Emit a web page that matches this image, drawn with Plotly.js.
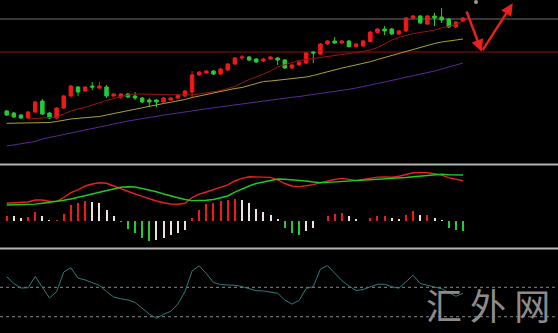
<!DOCTYPE html>
<html><head><meta charset="utf-8">
<script src="https://cdn.plot.ly/plotly-3.0.1.min.js"></script>
<style>html,body{margin:0;padding:0;background:#000;overflow:hidden}#chart{width:558px;height:333px}</style>
</head><body><div id="chart"></div>
<script>
// candle index (time order)
const idx = Array.from({length: 65}, (_, i) => i);

// OHLC (price units)
const open  = [89,87,85,82,88,99,87,82,92,104,113,109,114,112,113,104,103,106,104,102,100,100,98,100,102,104,108,125,127,129,126,130,136,142,143,141,139,141,142,140,132,135,137,148,146,156,159,157,159,153.5,154,158.5,167.5,171,171,166,169,182,184,176,184,183,181,173,179];
const high  = [90,88,86,89,99,101,88,93,105,115,114,114,118,118,115,107,107,107,108,103,102,101,103,103,106,110,129,129,130,130,132,137,143,145,144,142,142,144,143,141,136,139,148,149,157,160,163,160,160,157,160,169,172,174,172,170,183,185,185,185,187,192,182,179,183];
const low   = [84,82,81,81,87,85,81,81,91,103,104,108,110,111,102,103,101,102,100,97,93,93,97,99,101,103,103,124,126,125,125,129,135,140,139,137,138,140,135,131,131,134,136,137,145,155,156,156,152.5,152.5,153,157.5,166.5,165,165,165,168,181,176,175,174,177,172,172,178];
const close = [85,83,82,88,98,86,82,92,104,114,108,113,113,114,104,106,106,103,102,98,98,98,102,102,105,109,125,128,129,126,131,136,142,143,140,138,141,143,140,132,135,138,147,147,156,159,157,159,153.5,156,159,168,171,169,166,169,182,184,177,184,182,180,173,178,182];

// moving averages
const maShort = [null,null,null,81,81.5,82,82.5,83,86,89,91,92.5,95,97.5,99.5,101.5,103.5,105,106,106,106,105.8,105.5,105.2,105,105,105.2,106,107,108,109.5,111.5,113.5,117,120.5,123,126,129,133,135.5,137.5,139.5,140.5,141.7,142.7,143.7,144.7,145.5,146.2,147,148.5,150,152.5,156,160,162.5,164.5,166.5,167.5,168.5,170,172,173.5,175.5,179];
const maMid   = [76.7,76.8,77,77.1,77.2,77.3,77.5,78.5,80,81,81.7,82.4,83,83.5,85,86.5,88,89.5,91,92,93.5,95,96.5,97.7,99,100.5,102.5,104,106,107.5,109,110.5,111.5,112.5,114.5,116.5,118.5,119,119.7,120.2,121,122,123,124.5,126.5,128.5,130.5,132,133.5,135,136.5,138.3,140.5,142.5,144.5,147,149,151,153,155,156.5,158,159,160,161];
const maLong  = [54,55,56.5,57.5,58.5,61,62.5,64.5,66,67.5,69,70.5,72,73.5,75,76.2,77.5,79,80.2,81.5,82.7,83.8,85,86,87,88.2,89.2,90.2,91.2,92.2,93.2,94.3,95.2,96.2,97.2,98.2,99.2,100,101,101.8,102.7,103.5,104.5,105.5,106.5,107.2,108.2,109.5,110.7,112,113.3,115,116.5,118,119.5,121,122.7,124.5,126,127.7,129,131,133,135,137];

// horizontal levels in price panel
const levelGray = 181;
const levelRed = 148;

// MACD
const dif = [18.3,18.5,18.7,19.5,21.5,21.5,20.2,19.9,24,29,31.7,35.5,37.5,38.7,38.2,35.5,32.3,29.7,27.5,25.1,22.7,20.5,18.7,17.5,17.2,18.2,24,27.3,29.5,32,34.3,36.7,40.5,43.2,44.8,44.8,44.7,44.1,41.7,38,35.5,34.9,35.7,36.9,38.9,40.7,42,43.1,41.9,41,42.1,43.5,44.4,44.6,44.3,45.3,46.9,48.8,49.1,48.8,47.7,46.4,43.9,42.2,40.8];
const dea = [16.5,16.6,16.8,17.1,17.4,18.2,19,20.1,21.2,22.5,24.2,25.5,27.1,28.7,30.7,32.7,34.3,34.8,34.5,33,31.5,29.7,27.5,25.5,23.5,22,20.9,20.9,21.3,22,23.7,25.5,29.3,32.8,35.5,38,39.7,41.2,42.5,42.3,41.8,41.4,40.5,39.5,38.8,39.1,39.5,39.7,40.1,40.5,41,41.5,42,42.5,42.9,43.3,44,44.7,45.4,46.1,47,47.3,46.7,46.5,46.5];
const hist = [5.7,5,3.3,4.3,9,5.7,1.7,1.7,7.7,16,18.3,20,19.3,18.3,11.7,5,-1,-7.7,-11.7,-16.7,-20,-19,-16.7,-13.3,-11.7,-8.3,3.3,11.7,17.3,18.3,20,21,22.3,21.7,18.3,12.3,9.3,6.7,2.3,-6.7,-11.7,-13.3,-10,-6.7,0.7,5,7.3,8.3,5,2.3,0.7,3.3,5,5.7,3.3,2.3,6.7,10,6.7,6.7,3.3,1.7,-6.7,-8.3,-10];

// CCI oscillator
const cci = [172,126,95,97,173,102,27,70,204,233,163,150,133,113,71,34,22,14,-3,-44,-82,-111,-83,-64,-14,71,211,246,194,133,119,116,114,105,90,77,75,67,59,14,-14,10,92,105,224,247,195,146,109,78,85,102,121,121,104,94,141,182,126,114,97,90,65,39,59];
const cciLevels = [100, -100];

const UP = '#f01818', DOWN = '#22cc33', FADE = '#eee0e0';
const histColors = hist.map((v, i) => {
  const prev = i > 0 ? hist[i - 1] : 0;
  if (v >= 0) return v >= prev ? UP : FADE;
  return v <= prev ? DOWN : FADE;
});

const traces = [
  {type:'candlestick', x: idx, open, high, low, close, xaxis:'x', yaxis:'y',
   increasing:{line:{color:UP, width:1}, fillcolor:UP},
   decreasing:{line:{color:DOWN, width:1}, fillcolor:DOWN},
   whiskerwidth:0, hoverinfo:'skip'},
  {type:'scatter', mode:'lines', x: idx, y: maShort, line:{color:'#9b1515', width:1}, xaxis:'x', yaxis:'y'},
  {type:'scatter', mode:'lines', x: idx, y: maMid, line:{color:'#aaa236', width:1}, xaxis:'x', yaxis:'y'},
  {type:'scatter', mode:'lines', x: idx, y: maLong, line:{color:'#5a2a96', width:1}, xaxis:'x', yaxis:'y'},
  {type:'bar', x: idx, y: hist, marker:{color: histColors}, width:0.28, xaxis:'x2', yaxis:'y2'},
  {type:'scatter', mode:'lines', x: idx, y: dif, line:{color:'#e82020', width:1.4}, xaxis:'x2', yaxis:'y2'},
  {type:'scatter', mode:'lines', x: idx, y: dea, line:{color:'#22c822', width:1.4}, xaxis:'x2', yaxis:'y2'},
  {type:'scatter', mode:'lines', x: idx, y: cci, line:{color:'#2b7d78', width:1}, xaxis:'x3', yaxis:'y3'}
];

const xr = [-0.94, 77.32];
const ax = {visible:false, range: xr, fixedrange:true};
const layout = {
  width:558, height:333, margin:{l:0,r:0,t:0,b:0},
  paper_bgcolor:'#000', plot_bgcolor:'#000', showlegend:false,
  bargap:0,
  xaxis: Object.assign({anchor:'y', domain:[0,1], rangeslider:{visible:false}}, ax),
  xaxis2: Object.assign({anchor:'y2', domain:[0,1]}, ax),
  xaxis3: Object.assign({anchor:'y3', domain:[0,1]}, ax),
  yaxis: {visible:false, domain:[0.5135,1], range:[38,200]},
  yaxis2:{visible:false, domain:[0.2568,0.5015], range:[-26,55.5]},
  yaxis3:{visible:false, domain:[0,0.2492], range:[-210.8,353.6]},
  shapes: [
    {type:'line', xref:'paper', yref:'y', x0:0, x1:1, y0:levelGray, y1:levelGray, line:{color:'#6e6e6e', width:1}, layer:'below'},
    {type:'line', xref:'paper', yref:'y', x0:0, x1:1, y0:levelRed, y1:levelRed, line:{color:'#8c1010', width:1}, layer:'below'},
    {type:'line', xref:'paper', yref:'paper', x0:0, x1:1, y0:0.506, y1:0.506, line:{color:'#b4b4b4', width:2}},
    {type:'line', xref:'paper', yref:'paper', x0:0, x1:1, y0:0.2538, y1:0.2538, line:{color:'#b4b4b4', width:2}},
    {type:'line', xref:'paper', yref:'y3', x0:0, x1:1, y0:cciLevels[0], y1:cciLevels[0], line:{color:'#8a8a8a', width:1, dash:'dot'}, layer:'below'},
    {type:'line', xref:'paper', yref:'y3', x0:0, x1:1, y0:cciLevels[1], y1:cciLevels[1], line:{color:'#8a8a8a', width:1, dash:'dot'}, layer:'below'},
    {type:'circle', xref:'paper', yref:'paper', x0:0.8495, x1:0.8566, y0:0.988, y1:1.0, fillcolor:'#9a9a9a', line:{width:0}}
  ],
  annotations: [
    {xref:'x', yref:'y', axref:'x', ayref:'y', x:66.62, y:148.3, ax:64.42, ay:190, text:'', showarrow:true, arrowhead:2, arrowsize:1, arrowwidth:2.4, arrowcolor:'#e82020'},
    {xref:'x', yref:'y', axref:'x', ayref:'y', x:70.97, y:196.7, ax:66.62, ay:148.3, text:'', showarrow:true, arrowhead:2, arrowsize:1, arrowwidth:2.4, arrowcolor:'#e82020'},
    {xref:'paper', yref:'paper', x:0.8746, y:0.087, text:'汇 外 网', showarrow:false, xanchor:'center', yanchor:'middle',
     font:{family:'Noto Sans CJK SC', size:36, color:'#8c8c8c'}}
  ]
};
Plotly.newPlot('chart', traces, layout, {staticPlot:true, displayModeBar:false});
</script>
</body></html>
